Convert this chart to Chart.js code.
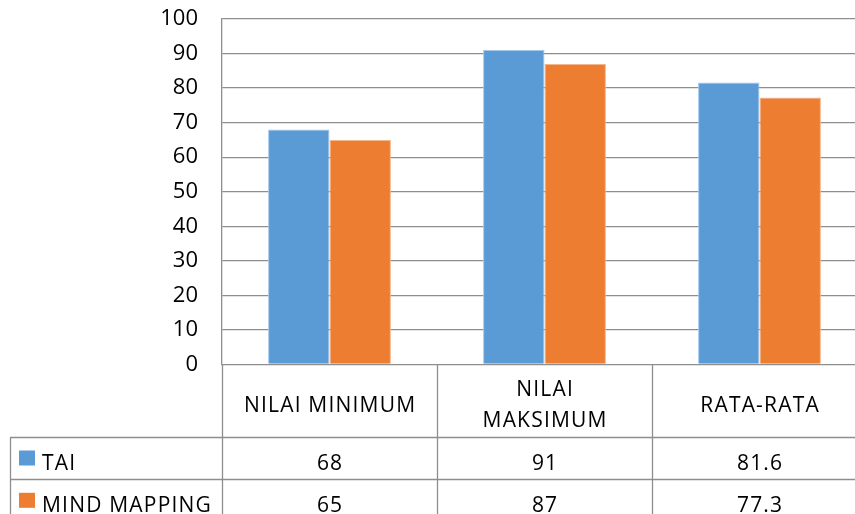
<!DOCTYPE html>
<html>
<head>
<meta charset="utf-8">
<script src="https://cdn.jsdelivr.net/npm/chart.js@4/dist/chart.umd.min.js"></script>
<style>
  html, body { margin: 0; padding: 0; background: #fff; overflow: hidden; }
  #wrap { position: relative; width: 870px; height: 524px; }
</style>
</head>
<body>
<div id="wrap"><canvas id="chart"></canvas></div>
<script>
// Categories (a nested array means the label is drawn on two lines)
const categories = ['NILAI MINIMUM', ['NILAI', 'MAKSIMUM'], 'RATA-RATA'];
// Series
const seriesNames = ['TAI', 'MIND MAPPING'];
const taiValues = [68, 91, 81.6];
const mindMappingValues = [65, 87, 77.3];
// Value axis
const yMin = 0;
const yMax = 100;
const yStep = 10;

const FONT = '"Open Sans", "Liberation Sans", sans-serif';
const GRID = '#8e8e8e';
const TEXT = '#000000';

// Data table drawn under the plot: header row with categories, then one row per series
const dataTablePlugin = {
  id: 'dataTable',
  afterDraw(chart) {
    const { ctx, chartArea } = chart;
    const { left, right, bottom } = chartArea;
    const xScale = chart.scales.x;
    const h = chart.height;
    const n = categories.length;
    const colW = (right - left) / n;
    const headerH = 72.5;
    const rowH = 42.3;
    const legendLeft = 10;
    const row1Top = bottom + headerH;
    const row2Top = row1Top + rowH;

    ctx.save();
    ctx.strokeStyle = GRID;
    ctx.lineWidth = 1.3;
    ctx.beginPath();
    for (let i = 0; i <= n; i++) {
      const x = Math.round(left + i * colW) + 0.5;
      ctx.moveTo(x, bottom);
      ctx.lineTo(x, h);
    }
    [row1Top, row2Top, row2Top + rowH].forEach(y => {
      const yy = Math.round(y) + 0.5;
      ctx.moveTo(legendLeft, yy);
      ctx.lineTo(right, yy);
    });
    ctx.moveTo(legendLeft + 0.5, Math.round(row1Top));
    ctx.lineTo(legendLeft + 0.5, h);
    ctx.stroke();

    ctx.fillStyle = TEXT;
    ctx.font = '21px ' + FONT;
    ctx.textAlign = 'center';
    ctx.textBaseline = 'alphabetic';
    if ('letterSpacing' in ctx) ctx.letterSpacing = '1.2px';

    // category header
    categories.forEach((cat, i) => {
      const cx = xScale.getPixelForValue(i) + 0.6;
      if (Array.isArray(cat)) {
        const lineH = 30.5;
        const first = bottom + 47 - (cat.length - 1) * lineH / 2;
        cat.forEach((line, k) => ctx.fillText(line, cx, first + k * lineH));
      } else {
        ctx.fillText(cat, cx, bottom + 47);
      }
    });

    // series rows
    chart.data.datasets.forEach((ds, r) => {
      const top = r === 0 ? row1Top : row2Top;
      const base = top + 33;
      ctx.textAlign = 'center';
      ds.data.forEach((v, i) => {
        ctx.fillText(String(v), xScale.getPixelForValue(i) + 0.6, base);
      });
      // legend key and name
      ctx.fillStyle = ds.backgroundColor;
      ctx.fillRect(19, top + 13.5, 16, 15);
      ctx.fillStyle = TEXT;
      ctx.textAlign = 'left';
      ctx.fillText(ds.label, 42, base);
    });
    ctx.restore();
  }
};

new Chart(document.getElementById('chart'), {
  type: 'bar',
  data: {
    labels: categories,
    datasets: [
      {
        label: seriesNames[0],
        data: taiValues,
        backgroundColor: '#5b9bd5',
        borderColor: '#a3c6ea',
        borderWidth: 1
      },
      {
        label: seriesNames[1],
        data: mindMappingValues,
        backgroundColor: '#ed7d31',
        borderColor: '#f5b68c',
        borderWidth: 1
      }
    ]
  },
  options: {
    responsive: true,
    maintainAspectRatio: false,
    animation: false,
    devicePixelRatio: 1,
    layout: { padding: { top: 19, right: 3, bottom: 159.5, left: 0 } },
    categoryPercentage: 0.5714,
    barPercentage: 1,
    plugins: {
      legend: { display: false },
      tooltip: { enabled: false }
    },
    scales: {
      x: {
        display: false
      },
      y: {
        min: yMin,
        max: yMax,
        ticks: {
          stepSize: yStep,
          padding: 24,
          color: TEXT,
          font: { family: FONT, size: 22 }
        },
        grid: {
          color: GRID,
          lineWidth: 1.3,
          drawTicks: false
        },
        border: { color: GRID, width: 1.3 },
        afterFit(scale) {
          scale.width = 222;
          scale.paddingTop = 0;
          scale.paddingBottom = 0;
        }
      }
    }
  },
  plugins: [dataTablePlugin]
});
</script>
</body>
</html>
